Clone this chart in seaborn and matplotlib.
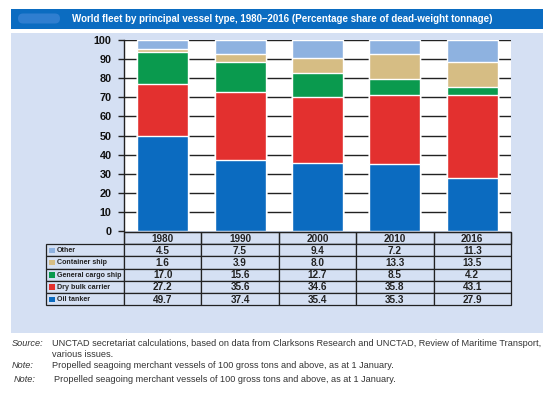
import matplotlib
matplotlib.use("Agg")
import matplotlib.pyplot as plt
import seaborn as sns
import numpy as np
import pandas as pd
from matplotlib.patches import Rectangle, FancyBboxPatch

sns.set_theme(style="white")
plt.rcParams['font.family'] = ['Liberation Sans', 'DejaVu Sans']

years = ["1980", "1990", "2000", "2010", "2016"]
series_names = ["Other", "Container ship", "General cargo ship", "Dry bulk carrier", "Oil tanker"]
other = [4.5, 7.5, 9.4, 7.2, 11.3]
container = [1.6, 3.9, 8.0, 13.3, 13.5]
general_cargo = [17.0, 15.6, 12.7, 8.5, 4.2]
dry_bulk = [27.2, 35.6, 34.6, 35.8, 43.1]
oil_tanker = [49.7, 37.4, 35.4, 35.3, 27.9]
colors = ["#8EB2E0", "#D6BD84", "#0A9A4E", "#E3302F", "#0B6BC0"]
yticks = [0, 10, 20, 30, 40, 50, 60, 70, 80, 90, 100]

W, H = 557, 395
fig = plt.figure(figsize=(W / 100, H / 100), dpi=100)
fig.patch.set_facecolor("white")
renderer = fig.canvas.get_renderer()


def fit(txt, max_w):
    """shrink a text's font size so its rendered width stays within max_w pixels"""
    w = txt.get_window_extent(renderer).width
    if w > max_w:
        txt.set_fontsize(txt.get_fontsize() * max_w / w)
    return txt


# overlay axes in pixel coordinates for decorations
bg = fig.add_axes([0, 0, 1, 1], zorder=0)
bg.set_xlim(0, W)
bg.set_ylim(H, 0)
bg.axis("off")
bg.add_patch(Rectangle((11, 9), 532, 20, facecolor="#0B6CC1", edgecolor="none"))
bg.add_patch(FancyBboxPatch((18, 13.5), 42, 10, boxstyle="round,pad=0,rounding_size=5",
                            facecolor="#2F7ED0", edgecolor="none"))
bg.add_patch(Rectangle((11, 33), 532, 300, facecolor="#D5E0F3", edgecolor="none"))
title = bg.text(282, 19.5, "World fleet by principal vessel type, 1980\u20132016 (Percentage share of dead-weight tonnage)",
                color="white", fontsize=8.6, fontweight="bold", ha="center", va="center")
fit(title, 418)

# bar chart axes
L, R, T, B = 124, 511, 40, 231
ax = fig.add_axes([L / W, 1 - B / H, (R - L) / W, (B - T) / H], zorder=1)
ax.set_facecolor("white")

levels = [oil_tanker, dry_bulk, general_cargo, container, other]
cum = np.cumsum(np.array(levels), axis=0)  # bottom to top
layer_colors = colors[::-1]  # oil, dry, general, container, other
for i in range(len(levels) - 1, -1, -1):
    df = pd.DataFrame({"year": years, "value": cum[i]})
    sns.barplot(data=df, x="year", y="value", color=layer_colors[i], width=0.66,
                saturation=1, ax=ax, zorder=3, order=years)

for y in yticks[1:]:
    ax.axhline(y, color="#222222", lw=1.0, zorder=1)
ax.set_ylim(0, 100)
ax.set_xlim(-0.5, 4.5)
ax.set_yticks(yticks)
ax.set_yticklabels([str(t) for t in yticks], fontsize=7.8, fontweight="bold", color="#111111")
ax.tick_params(axis="y", length=4, width=1, color="#222222", pad=5, left=True)
ax.set_xticks([])
ax.set_xlabel("")
ax.set_ylabel("")
for s in ["top", "right", "bottom"]:
    ax.spines[s].set_visible(False)
ax.spines["left"].set_color("#222222")
ax.spines["left"].set_linewidth(1)

# data table
col_w = (R - L) / len(years)
row_h = 12.2
t0 = 232
lab_x0 = 46
fs = 7.2
bg.add_patch(Rectangle((L, t0), R - L, row_h, facecolor="#D5E0F3", edgecolor="#222222", lw=0.9, zorder=2))
for j, yr in enumerate(years):
    x0 = L + j * col_w
    bg.add_patch(Rectangle((x0, t0), col_w, row_h, facecolor="none", edgecolor="#222222", lw=0.9, zorder=3))
    bg.text(x0 + col_w / 2, t0 + row_h / 2 + 0.5, yr, fontsize=fs, fontweight="bold",
            ha="center", va="center", color="#222222", zorder=4)
series_vals = [other, container, general_cargo, dry_bulk, oil_tanker]
labels = []
for i, (name, vals, c) in enumerate(zip(series_names, series_vals, colors)):
    y0 = t0 + row_h * (i + 1)
    bg.add_patch(Rectangle((lab_x0, y0), L - lab_x0, row_h, facecolor="#D5E0F3",
                           edgecolor="#222222", lw=0.9, zorder=3))
    bg.add_patch(Rectangle((lab_x0 + 3, y0 + 3.5), 5.5, 5.5, facecolor=c, edgecolor="none", zorder=4))
    labels.append(bg.text(lab_x0 + 11, y0 + row_h / 2 + 0.5, name, fontsize=fs, fontweight="bold",
                          ha="left", va="center", color="#222222", zorder=4))
    for j, v in enumerate(vals):
        x0 = L + j * col_w
        bg.add_patch(Rectangle((x0, y0), col_w, row_h, facecolor="#D5E0F3",
                               edgecolor="#222222", lw=0.9, zorder=3))
        bg.text(x0 + col_w / 2, y0 + row_h / 2 + 0.5, f"{v:.1f}", fontsize=fs, fontweight="bold",
                ha="center", va="center", color="#222222", zorder=4)
# common label size so the longest fits its cell
widest = max(labels, key=lambda t: t.get_window_extent(renderer).width)
fit(widest, L - lab_x0 - 13)
for t in labels:
    t.set_fontsize(widest.get_fontsize())

# footer
fc = "#333333"
ffs = 6.6
def foot(x, y, s, italic=False):
    return bg.text(x, y, s, fontsize=ffs, style="italic" if italic else "normal",
                   color=fc, va="center")
foot(12, 344, "Source:", True)
fit(foot(52, 344, "UNCTAD secretariat calculations, based on data from Clarksons Research and UNCTAD, Review of Maritime Transport,"), 492)
foot(52, 354.5, "various issues.")
foot(12, 366, "Note:", True)
foot(52, 366, "Propelled seagoing merchant vessels of 100 gross tons and above, as at 1 January.")
foot(14, 380, "Note:", True)
foot(54, 380, "Propelled seagoing merchant vessels of 100 gross tons and above, as at 1 January.")

fig.savefig("out.png", dpi=100)
